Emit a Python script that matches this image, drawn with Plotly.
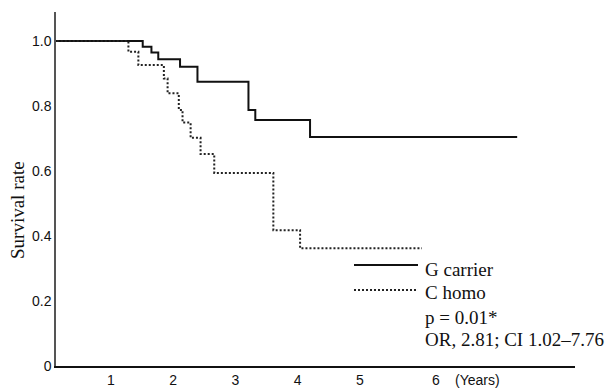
import plotly.graph_objects as go

# Kaplan-Meier style step data (years, survival rate)
g_times = [0, 1.51, 1.65, 1.76, 2.11, 2.39, 3.21, 3.32, 4.20, 7.53]
g_surv = [1.0, 0.982, 0.965, 0.944, 0.921, 0.875, 0.788, 0.757, 0.705, 0.705]

c_times = [0, 1.28, 1.44, 1.85, 1.91, 2.09, 2.15, 2.28, 2.44, 2.66, 3.61, 4.04, 6.0]
c_surv = [1.0, 0.967, 0.926, 0.885, 0.839, 0.788, 0.749, 0.702, 0.652, 0.594, 0.418, 0.362, 0.362]

x_tickvals = [1, 2, 3, 4, 5]
x_ticktext = ["1", "2", "3", "4", "5"]
y_tickvals = [0, 0.2, 0.4, 0.6, 0.8, 1.0]
y_ticktext = ["0", "0.2", "0.4", "0.6", "0.8", "1.0"]

series_names = ["G carrier", "C homo"]
stat_lines = ["p = 0.01*", "OR, 2.81; CI 1.02\u20137.76"]

W, H = 611, 389
L, R, T, B = 56, 36, 12, 23
PW, PH = W - L - R, H - T - B


def px(xpix):
    return (xpix - L) / PW


def py(ypix):
    return (H - B - ypix) / PH


fig = go.Figure()
fig.add_trace(go.Scatter(x=g_times, y=g_surv, mode="lines", line_shape="hv",
                         line=dict(color="#111111", width=2), name=series_names[0],
                         showlegend=False))
fig.add_trace(go.Scatter(x=c_times, y=c_surv, mode="lines", line_shape="hv",
                         line=dict(color="#222222", width=2, dash="2px,2px"),
                         name=series_names[1], showlegend=False))

serif = "Liberation Serif"
sans = "Liberation Sans"

annotations = [
    dict(text="Survival rate", x=px(17), y=py(210), xref="paper", yref="paper",
         textangle=-90, showarrow=False, font=dict(family=serif, size=19, color="#111"),
         xanchor="center", yanchor="middle"),
    dict(text="6", x=px(436), y=py(380), xref="paper", yref="paper", showarrow=False,
         font=dict(family=sans, size=14, color="#111"), xanchor="center", yanchor="middle"),
    dict(text="(Years)", x=px(477.5), y=py(380), xref="paper", yref="paper", showarrow=False,
         font=dict(family=sans, size=14, color="#111"), xanchor="center", yanchor="middle"),
]
text_y = [269, 292, 317, 339]
texts = series_names + stat_lines
for t, yy in zip(texts, text_y):
    annotations.append(dict(text=t, x=px(423), y=py(yy), xref="paper", yref="paper",
                            showarrow=False, xanchor="left", yanchor="middle",
                            font=dict(family=serif, size=19, color="#111")))

shapes = [
    dict(type="line", xref="paper", yref="paper", x0=px(354), x1=px(418), y0=py(265), y1=py(265),
         line=dict(color="#111", width=2)),
    dict(type="line", xref="paper", yref="paper", x0=px(354), x1=px(418), y0=py(290), y1=py(290),
         line=dict(color="#222", width=2, dash="2px,2px")),
]

fig.update_layout(
    width=W, height=H,
    margin=dict(l=L, r=R, t=T, b=B, pad=0, autoexpand=False),
    paper_bgcolor="white", plot_bgcolor="white",
    xaxis=dict(range=[(L - 111) / 62.2 + 1, (575 - 111) / 62.2 + 1], showgrid=False, zeroline=False,
               automargin=False,
               showline=True, linecolor="#111", linewidth=2, tickvals=x_tickvals, ticktext=x_ticktext,
               ticks="", tickfont=dict(family=sans, size=14, color="#111")),
    yaxis=dict(range=[0, (H - B - T) / 325], showgrid=False, zeroline=False,
               automargin=False,
               showline=True, linecolor="#555", linewidth=1.5, tickvals=y_tickvals, ticktext=y_ticktext,
               ticks="", tickfont=dict(family=sans, size=14, color="#111")),
    annotations=annotations,
    shapes=shapes,
)

fig.write_html("out.html", config={"displayModeBar": False},
               post_script="document.body.style.margin='0';document.body.style.overflow='hidden';")
